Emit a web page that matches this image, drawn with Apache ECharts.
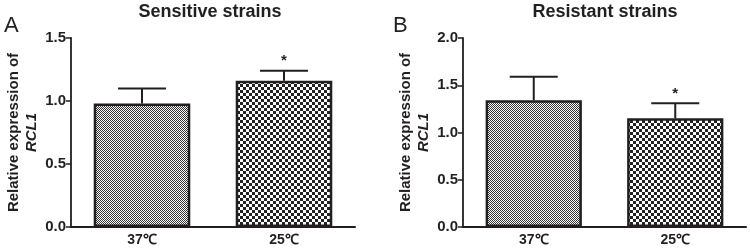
<!DOCTYPE html>
<html>
<head>
<meta charset="utf-8">
<script src="https://cdn.jsdelivr.net/npm/echarts@6/dist/echarts.min.js"></script>
<style>
  html, body { margin: 0; padding: 0; background: #fff; }
  #chart { width: 750px; height: 248px; }
</style>
</head>
<body>
<div id="chart"></div>
<script>
// data
const categories = ['37℃', '25℃'];
const sensitiveMean = [0.98, 1.16];
const sensitiveSD = [0.12, 0.08];
const resistantMean = [1.34, 1.15];
const resistantSD = [0.25, 0.16];
const sigMarks = ['', '*'];
const sensitiveTicks = { max: 1.5, interval: 0.5 };
const resistantTicks = { max: 2.0, interval: 0.5 };

const FONT = '"Liberation Sans", Arial, sans-serif';
const INK = '#231f20';

// checkerboard fills
function checker(cell, dark) {
  const c = document.createElement('canvas');
  c.width = c.height = cell * 2;
  const g = c.getContext('2d');
  g.fillStyle = '#fff';
  g.fillRect(0, 0, cell * 2, cell * 2);
  g.fillStyle = dark;
  g.fillRect(0, 0, cell, cell);
  g.fillRect(cell, cell, cell, cell);
  return { image: c, repeat: 'repeat' };
}
const fine = checker(1, '#333');
const coarse = checker(3, '#222');

const chart = echarts.init(document.getElementById('chart'));

function errBar(params, api) {
  const x = api.value(0), m = api.value(1), sd = api.value(2);
  const base = api.coord([x, m]);
  const top = api.coord([x, m + sd]);
  const half = 24;
  const style = { stroke: INK, lineWidth: 2 };
  const children = [
    { type: 'line', shape: { x1: base[0], y1: base[1], x2: top[0], y2: top[1] }, style },
    { type: 'line', shape: { x1: top[0] - half, y1: top[1], x2: top[0] + half, y2: top[1] }, style }
  ];
  const mark = sigMarks[params.dataIndex];
  if (mark) {
    children.push({
      type: 'text',
      style: { text: mark, x: top[0], y: top[1] - 2, align: 'center', verticalAlign: 'bottom',
        font: 'bold 15px ' + FONT, fill: INK }
    });
  }
  return { type: 'group', children };
}

function yAxis(idx, ticks) {
  return {
    gridIndex: idx, type: 'value', min: 0, max: ticks.max, interval: ticks.interval,
    name: '{a|Relative expression of}\n{b|RCL1}',
    nameLocation: 'middle', nameGap: 30, nameRotate: 90,
    nameTextStyle: {
      lineHeight: 18,
      rich: {
        a: { fontFamily: FONT, fontWeight: 'bold', fontSize: 15, color: INK, lineHeight: 18 },
        b: { fontFamily: FONT, fontWeight: 'bold', fontStyle: 'italic', fontSize: 15, color: INK, lineHeight: 18 }
      }
    },
    axisLine: { show: true, lineStyle: { color: INK, width: 1.8 } },
    axisTick: { show: true, length: 5, lineStyle: { color: INK, width: 1.5 } },
    axisLabel: { color: INK, fontFamily: FONT, fontWeight: 'bold', fontSize: 15, margin: 5,
      formatter: v => v.toFixed(1) },
    splitLine: { show: false }
  };
}

function xAxis(idx) {
  return {
    gridIndex: idx, type: 'category', data: categories,
    axisLine: { lineStyle: { color: INK, width: 2 } },
    axisTick: { alignWithLabel: true, length: 4, lineStyle: { color: INK, width: 1.5 } },
    axisLabel: { color: INK, fontFamily: FONT, fontWeight: 'bold', fontSize: 14, margin: 6 }
  };
}

function barSeries(idx, mean) {
  return {
    type: 'bar', xAxisIndex: idx, yAxisIndex: idx, barWidth: '68%',
    data: mean.map((v, i) => ({ value: v, itemStyle: { color: i === 0 ? fine : coarse } })),
    itemStyle: { borderColor: INK, borderWidth: 2.5 },
    emphasis: { disabled: true }
  };
}

function errSeries(idx, mean, sd) {
  return {
    type: 'custom', xAxisIndex: idx, yAxisIndex: idx, renderItem: errBar, z: 3,
    data: mean.map((v, i) => [i, v, sd[i]])
  };
}

const option = {
  animation: false,
  grid: [
    { left: 71, width: 284, top: 38, height: 189 },
    { left: 463, width: 283, top: 38, height: 189 }
  ],
  xAxis: [xAxis(0), xAxis(1)],
  yAxis: [yAxis(0, sensitiveTicks), yAxis(1, resistantTicks)],
  series: [
    barSeries(0, sensitiveMean), errSeries(0, sensitiveMean, sensitiveSD),
    barSeries(1, resistantMean), errSeries(1, resistantMean, resistantSD)
  ],
  graphic: [
    { type: 'text', left: 4, top: 15, style: { text: 'A', font: '22px ' + FONT, fill: INK } },
    { type: 'text', left: 393, top: 15, style: { text: 'B', font: '22px ' + FONT, fill: INK } },
    { type: 'text', x: 210, y: 12, style: { text: 'Sensitive strains', align: 'center', verticalAlign: 'middle',
      font: 'bold 18px ' + FONT, fill: INK } },
    { type: 'text', x: 605, y: 12, style: { text: 'Resistant strains', align: 'center', verticalAlign: 'middle',
      font: 'bold 18px ' + FONT, fill: INK } }
  ]
};
chart.setOption(option);
</script>
</body>
</html>
